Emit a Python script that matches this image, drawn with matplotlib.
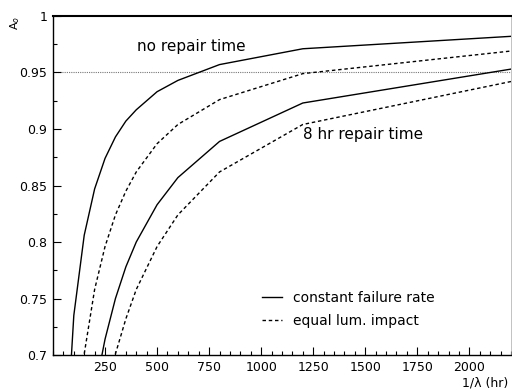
import matplotlib
matplotlib.use("Agg")
import matplotlib.pyplot as plt
import matplotlib.ticker as ticker

# 1/lambda (hr) and availability A_o
x_norep_cfr = [50, 100, 150, 200, 250, 300, 350, 400, 500, 600, 800, 1200, 2200]
a_norep_cfr = [0.581, 0.735, 0.806, 0.847, 0.874, 0.893, 0.907, 0.917, 0.933,
               0.943, 0.957, 0.971, 0.982]

x_norep_eli = [100, 150, 200, 250, 300, 350, 400, 500, 600, 800, 1200, 2200]
a_norep_eli = [0.610, 0.701, 0.758, 0.796, 0.824, 0.845, 0.862, 0.887, 0.904,
               0.926, 0.949, 0.969]

x_rep8_cfr = [200, 250, 300, 350, 400, 500, 600, 800, 1200, 2200]
a_rep8_cfr = [0.667, 0.714, 0.750, 0.778, 0.800, 0.833, 0.857, 0.889, 0.923, 0.953]

x_rep8_eli = [250, 300, 350, 400, 500, 600, 800, 1200, 2200]
a_rep8_eli = [0.661, 0.701, 0.732, 0.758, 0.796, 0.824, 0.862, 0.904, 0.942]

target = 0.95
xticks = [250, 500, 750, 1000, 1250, 1500, 1750, 2000]
yticks = [0.7, 0.75, 0.8, 0.85, 0.9, 0.95, 1.0]
ytick_labels = ["0.7", "0.75", "0.8", "0.85", "0.9", "0.95", "1"]

plt.rcParams["font.family"] = ["DejaVu Sans"]

fig = plt.figure(figsize=(5.12, 3.9), dpi=100)
ax = fig.add_axes([0.1035, 0.0897, 0.8945, 0.8693])

dash = (0, (2.5, 2.0))
ax.axhline(target, color="#777777", linestyle=(0, (1, 1)), linewidth=0.8, zorder=1)
ax.plot(x_norep_cfr, a_norep_cfr, color="black", linewidth=1.0,
        label="constant failure rate", zorder=3)
ax.plot(x_norep_eli, a_norep_eli, color="black", linewidth=1.0, linestyle=dash,
        label="equal lum. impact", zorder=3)
ax.plot(x_rep8_cfr, a_rep8_cfr, color="black", linewidth=1.0, zorder=3)
ax.plot(x_rep8_eli, a_rep8_eli, color="black", linewidth=1.0, linestyle=dash, zorder=3)

ax.set_xlim(0, 2200)
ax.set_ylim(0.7, 1.0)

ax.set_xticks(xticks)
ax.xaxis.set_minor_locator(ticker.MultipleLocator(50))
ax.set_yticks(yticks)
ax.set_yticklabels(ytick_labels)
ax.yaxis.set_minor_locator(ticker.MultipleLocator(0.025))
ax.tick_params(which="both", direction="in", top=False, right=False,
               labelsize=9, width=0.8)
ax.tick_params(which="major", length=6, pad=4)
ax.tick_params(which="minor", length=3)

for s in ["left", "bottom"]:
    ax.spines[s].set_linewidth(1.0)
ax.spines["top"].set_linewidth(1.5)
ax.spines["right"].set_linewidth(0.5)
ax.spines["right"].set_color("#aaaaaa")

ax.text(404, 0.9726, "no repair time", fontsize=11, ha="left", va="center")
ax.text(1202, 0.8947, "8 hr repair time", fontsize=11, ha="left", va="center")

ax.legend(loc="upper left", bbox_to_anchor=(0.456, 0.189), frameon=False,
          fontsize=10, borderpad=0, borderaxespad=0, handlelength=1.45,
          handletextpad=0.8, labelspacing=0.65)

fig.text(0.992, 0.0, "1/\u03bb (hr)", fontsize=9, ha="right", va="bottom")
fig.text(0.03, 0.958, "A$_o$", fontsize=8, rotation=90, ha="center", va="top")

fig.savefig("out.png", dpi=100, facecolor="white")
